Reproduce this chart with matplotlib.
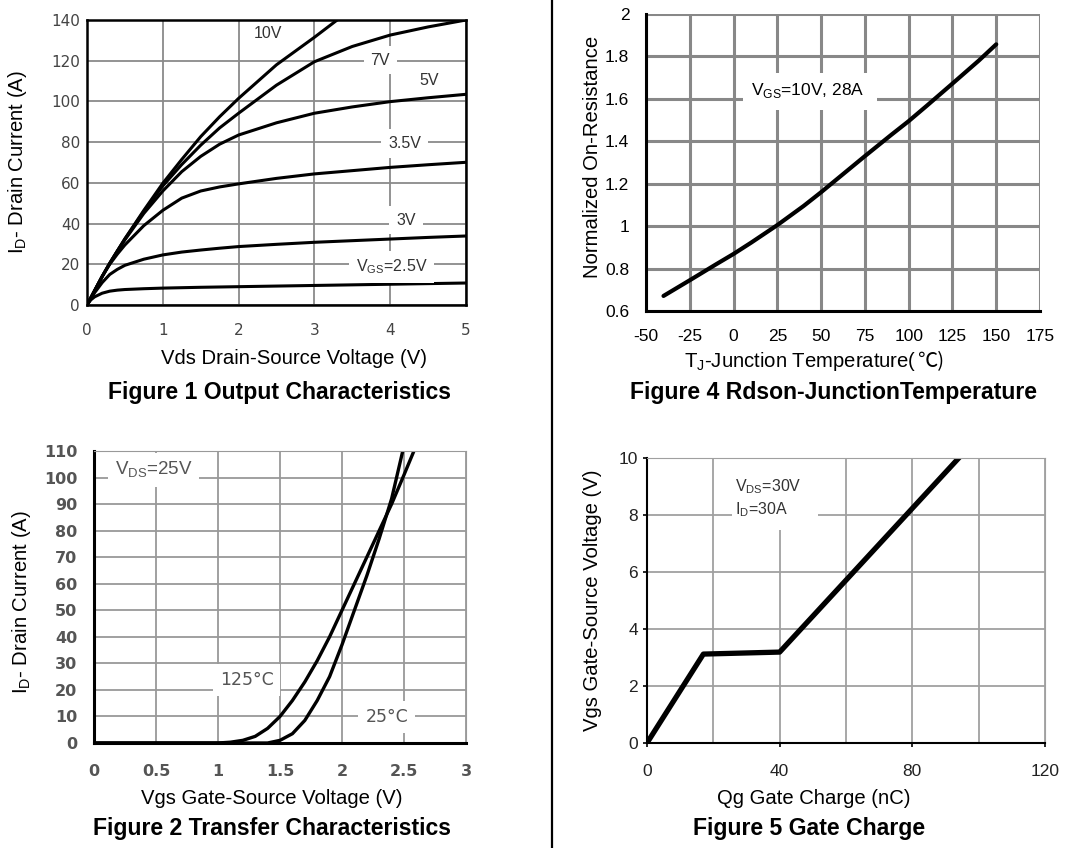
import matplotlib
matplotlib.use("Agg")
import matplotlib.pyplot as plt
from matplotlib.patches import Rectangle

plt.rcParams['font.family'] = ['Liberation Sans', 'DejaVu Sans']
plt.rcParams['mathtext.fontset'] = 'custom'
plt.rcParams['mathtext.rm'] = 'Liberation Sans'
plt.rcParams['axes.unicode_minus'] = False

# Figure 1 - output characteristics, Vds (V) vs Id (A) per Vgs
vds = [0, 0.05, 0.1, 0.2, 0.3, 0.4, 0.5, 0.75, 1.0, 1.25, 1.5, 1.75, 2.0, 2.5, 3.0, 3.5, 4.0, 4.5, 5.0]
id_25v = [0, 2.5, 4, 5.8, 6.8, 7.3, 7.6, 8.0, 8.3, 8.5, 8.7, 8.85, 9.0, 9.3, 9.6, 9.9, 10.2, 10.5, 10.8]
id_3v = [0, 3, 6, 11, 15, 17.5, 19.5, 22.5, 24.6, 26, 27, 27.9, 28.7, 29.8, 30.8, 31.6, 32.4, 33.2, 33.9]
id_35v = [0, 3.5, 7, 14, 20, 25, 29.5, 39, 46.5, 52.5, 56, 58, 59.5, 62.2, 64.4, 66, 67.6, 68.9, 70.1]
id_5v = [0, 3.5, 7, 14, 20.5, 26.5, 32, 45, 56, 65.5, 73, 79, 83.5, 89.5, 94.2, 97.3, 99.9, 101.8, 103.5]
id_7v = [0, 3.5, 7, 14, 20.5, 26.5, 32.5, 46, 58.5, 69, 78.5, 87, 94.2, 108, 119.5, 127, 132.6, 136.6, 140]
vds_10v = [0, 0.05, 0.1, 0.2, 0.3, 0.4, 0.5, 0.75, 1.0, 1.25, 1.5, 1.75, 2.0, 2.5, 3.0, 3.3]
id_10v = [0, 3.5, 7, 14, 20.5, 26.5, 32.5, 46.5, 59.8, 71.5, 82.7, 92.5, 101.5, 118, 131.5, 140]
vgs_labels = ['10V', '7V', '5V', '3.5V', '3V', r'V$_\mathrm{GS}$=2.5V']
label_x = [2.39, 3.87, 4.51, 4.19, 4.21, 4.02]
label_y = [133.6, 120.3, 110.5, 79.5, 41.7, 18.7]

# Figure 4 - normalized Rdson vs junction temperature
tj = [-40, -25, -10, 0, 10, 25, 40, 50, 60, 75, 90, 100, 110, 125, 140, 150]
rdson = [0.671, 0.745, 0.82, 0.869, 0.922, 1.005, 1.095, 1.16, 1.228, 1.33, 1.43, 1.495,
         1.565, 1.672, 1.78, 1.857]

# Figure 2 - transfer characteristics, Vgs (V) vs Id (A)
vgs_125 = [0, 1.0, 1.1, 1.2, 1.3, 1.4, 1.5, 1.6, 1.7, 1.8, 1.9, 2.0, 2.1, 2.2, 2.3, 2.4, 2.5, 2.58]
id_125 = [0, 0, 0.3, 1, 2.5, 5.5, 10, 16, 23, 31, 40, 50, 60, 70, 80, 90, 101, 110]
vgs_25 = [0, 1.4, 1.5, 1.6, 1.7, 1.8, 1.9, 2.0, 2.1, 2.2, 2.3, 2.4, 2.49]
id_25 = [0, 0, 1, 3.5, 8.5, 16, 25, 37, 50, 63, 77, 92, 110]

# Figure 5 - gate charge
qg = [0, 17, 40, 94]
vgs_q = [0, 3.12, 3.19, 10]

W, H = 1070, 848
fig = plt.figure(figsize=(W / 100, H / 100), dpi=100)


def box(l, t, r, b):
    return [l / W, 1 - b / H, (r - l) / W, (b - t) / H]


def ftext(x, y, s, **kw):
    return fig.text(x / W, 1 - y / H, s, ha='center', va='center', **kw)


lab_bg = dict(facecolor='white', edgecolor='none', pad=5)
AXLAB = 14.6
TITLE = 16.6
wide = ['DejaVu Sans']

# ---------- Figure 1 ----------
ax1 = fig.add_axes(box(87, 20, 466, 305))
for yy in [id_25v, id_3v, id_35v, id_5v, id_7v]:
    ax1.plot(vds, yy, color='black', lw=2.2)
ax1.plot(vds_10v, id_10v, color='black', lw=2.2)
ax1.set_xlim(0, 5)
ax1.set_ylim(0, 140)
ax1.set_xticks(range(0, 6))
ax1.set_yticks(range(0, 141, 20))
ax1.grid(True, color='#8a8a8a', lw=1.3)
ax1.set_axisbelow(True)
for s in ax1.spines.values():
    s.set_linewidth(1.8)
ax1.tick_params(length=0, labelsize=11, labelcolor='#444444', labelfontfamily=wide)
ax1.tick_params(axis='x', pad=13)
ax1.tick_params(axis='y', pad=5)
for i, (s, x, y) in enumerate(zip(vgs_labels, label_x, label_y)):
    # the top label sits next to the frame, so it gets no white backing
    ax1.text(x, y, s, fontsize=11.5, color='#333333', ha='center', va='center',
             bbox=None if i == 0 else lab_bg)
ftext(18, 162, r'I$_\mathrm{D}$- Drain Current (A)', fontsize=AXLAB, rotation=90)
ftext(294, 358, 'Vds Drain-Source Voltage (V)', fontsize=AXLAB)
ftext(280, 392, 'Figure 1 Output Characteristics', fontsize=TITLE, fontweight='bold')

# ---------- Figure 4 ----------
ax4 = fig.add_axes(box(646, 14, 1040, 311))
ax4.plot(tj, rdson, color='black', lw=3, solid_capstyle='round')
ax4.set_xlim(-50, 175)
ax4.set_ylim(0.6, 2.0)
ax4.set_xticks(range(-50, 176, 25))
ax4.set_yticks([0.6, 0.8, 1.0, 1.2, 1.4, 1.6, 1.8, 2.0])
ax4.set_yticklabels(['0.6', '0.8', '1', '1.2', '1.4', '1.6', '1.8', '2'])
ax4.grid(True, color='#888888', lw=2.2)
ax4.set_axisbelow(True)
ax4.spines['left'].set_linewidth(2.2)
ax4.spines['bottom'].set_linewidth(2.2)
ax4.spines['top'].set_visible(False)
ax4.spines['right'].set_visible(False)
ax4.tick_params(length=0, labelsize=12.5, labelcolor='black')
ax4.tick_params(axis='x', pad=13)
ax4.tick_params(axis='y', pad=12)
ax4.add_patch(Rectangle((5.4, 1.547), 76.5, 0.173, facecolor='white', edgecolor='none', zorder=1))
ax4.text(10, 1.64, r'V$_\mathrm{GS}$=10V, 28A', fontsize=12.5, ha='left', va='center')
ftext(593, 157, 'Normalized On-Resistance', fontsize=AXLAB, rotation=90)
ftext(834, 392, 'Figure 4 Rdson-JunctionTemperature', fontsize=TITLE, fontweight='bold')

# x label of figure 4: mathtext part + celsius sign from a font that has it
part1 = fig.text(0, 1 - 367 / H, r'T$_\mathrm{J}$-Junction Temperature(', fontsize=AXLAB,
                 ha='left', va='baseline')
part2 = fig.text(0, 1 - 367 / H, '\u2103)', fontsize=AXLAB, ha='left', va='baseline',
                 family=['Noto Sans CJK SC', 'DejaVu Sans'])
rend = fig.canvas.get_renderer()
w1 = part1.get_window_extent(rend).width
w2 = part2.get_window_extent(rend).width
x0 = 814 - (w1 + w2) / 2
part1.set_x(x0 / W)
part2.set_x((x0 + w1) / W)

# ---------- Figure 2 ----------
ax2 = fig.add_axes(box(94, 451, 466, 743))
ax2.plot(vgs_125, id_125, color='black', lw=2.4)
ax2.plot(vgs_25, id_25, color='black', lw=2.4)
ax2.set_xlim(0, 3)
ax2.set_ylim(0, 110)
ax2.set_xticks([0, 0.5, 1, 1.5, 2, 2.5, 3])
ax2.set_xticklabels(['0', '0.5', '1', '1.5', '2', '2.5', '3'])
ax2.set_yticks(range(0, 111, 10))
ax2.grid(True, color='#999999', lw=1.3)
ax2.set_axisbelow(True)
ax2.spines['left'].set_linewidth(2.2)
ax2.spines['bottom'].set_linewidth(2.2)
ax2.spines['top'].set_color('#999999')
ax2.spines['right'].set_color('#999999')
ax2.tick_params(length=0, labelsize=11.5, labelcolor='#555555', labelfontfamily=wide)
ax2.tick_params(axis='x', pad=15)
ax2.tick_params(axis='y', pad=12)
for t in ax2.get_xticklabels() + ax2.get_yticklabels():
    t.set_fontweight('bold')
ax2.text(0.48, 102.8, r'V$_\mathrm{DS}$=25V', fontsize=13.5, color='#555555', ha='center', va='center', bbox=lab_bg)
ax2.text(1.23, 23.6, '125°C', fontsize=12.5, color='#555555', ha='center', va='center', bbox=lab_bg,
         family=wide)
ax2.text(2.36, 9.8, '25°C', fontsize=12.5, color='#555555', ha='center', va='center', bbox=lab_bg,
         family=wide)
ftext(22, 602, r'I$_\mathrm{D}$- Drain Current (A)', fontsize=AXLAB, rotation=90)
ftext(272, 798, 'Vgs Gate-Source Voltage (V)', fontsize=AXLAB)
ftext(272, 828, 'Figure 2 Transfer Characteristics', fontsize=TITLE, fontweight='bold')

# ---------- Figure 5 ----------
ax5 = fig.add_axes(box(647, 458, 1045, 743))
ax5.plot(qg, vgs_q, color='black', lw=3.8)
ax5.set_xlim(0, 120)
ax5.set_ylim(0, 10)
ax5.set_xticks(range(0, 121, 40))
ax5.set_xticks([20, 60, 100], minor=True)
ax5.set_yticks(range(0, 11, 2))
ax5.grid(True, which='both', color='#a0a0a0', lw=1.3)
ax5.set_axisbelow(True)
ax5.spines['left'].set_linewidth(1.5)
ax5.spines['bottom'].set_linewidth(1.5)
ax5.spines['top'].set_color('#a0a0a0')
ax5.spines['right'].set_color('#a0a0a0')
ax5.tick_params(length=3, width=1.2, labelsize=12.5, labelcolor='#222222')
ax5.tick_params(which='minor', length=0)
ax5.tick_params(axis='x', pad=12)
ax5.add_patch(Rectangle((25.5, 7.47), 26, 2.5, facecolor='white', edgecolor='none', zorder=1))
ax5.text(26.5, 8.6, 'V$_\\mathrm{DS}$=30V\nI$_\\mathrm{D}$=30A', fontsize=11.5, color='#333333',
         ha='left', va='center', linespacing=1.3)
ftext(593, 600, 'Vgs Gate-Source Voltage (V)', fontsize=AXLAB, rotation=90)
ftext(814, 798, 'Qg Gate Charge (nC)', fontsize=AXLAB)
ftext(809, 828, 'Figure 5 Gate Charge', fontsize=TITLE, fontweight='bold')

# vertical divider
fig.add_artist(plt.Line2D([552 / W, 552 / W], [0, 1], color='black', lw=1.6, transform=fig.transFigure))

fig.savefig('out.png', dpi=100)
